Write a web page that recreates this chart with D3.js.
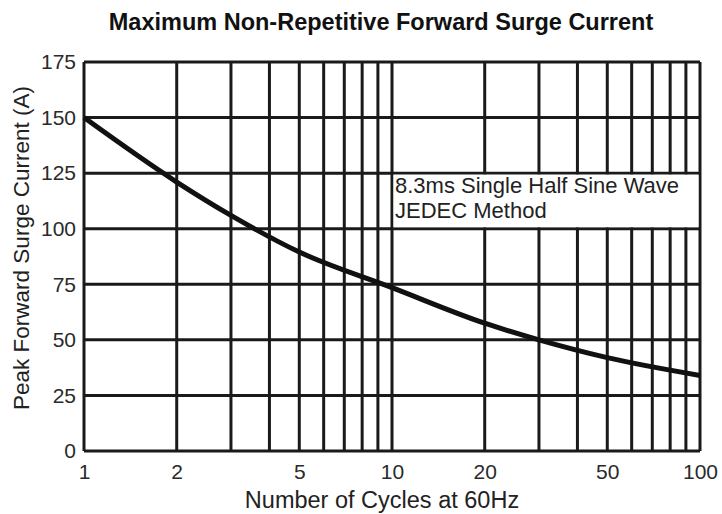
<!DOCTYPE html>
<html lang="en">
<head>
<meta charset="UTF-8">
<script src="https://d3js.org/d3.v7.min.js"></script>
<title>Surge Current</title>
<style>
  body { margin: 0; background: #fff; font-family: "Liberation Sans", Arial, sans-serif; }
  .tick text { fill: #2a2a2a; font-size: 21px; font-family: "Liberation Sans", Arial, sans-serif; }
  .grid line { stroke: #1a1a1a; stroke-width: 3; }
</style>
</head>
<body>
<div id="chart"></div>
<script>
// curve
var cycles  = [1, 2, 3, 5, 10, 20, 30, 50, 100];
var current = [150, 121, 106, 89.5, 73.5, 57.5, 50, 42, 34];
var xTicks = [1, 2, 5, 10, 20, 50, 100];
var xGrid  = [1, 2, 3, 4, 5, 6, 7, 8, 9, 10, 20, 30, 40, 50, 60, 70, 80, 90, 100];
var yTicks = [0, 25, 50, 75, 100, 125, 150, 175];

var W = 722, H = 514;
var margin = {top: 62, right: 22, bottom: 63, left: 84};
var width = W - margin.left - margin.right,
    height = H - margin.top - margin.bottom;

var svg = d3.select("#chart").append("svg")
    .attr("width", W).attr("height", H);
var g = svg.append("g")
    .attr("transform", "translate(" + margin.left + "," + margin.top + ")");

var x = d3.scaleLog().domain([1, 100]).range([0, width]);
var y = d3.scaleLinear().domain([0, 175]).range([height, 0]);

// grid
g.append("g").attr("class", "grid")
  .selectAll("line").data(xGrid).enter().append("line")
    .attr("x1", function(d) { return x(d); }).attr("x2", function(d) { return x(d); })
    .attr("y1", 0).attr("y2", height);
g.append("g").attr("class", "grid")
  .selectAll("line").data(yTicks).enter().append("line")
    .attr("x1", 0).attr("x2", width)
    .attr("y1", function(d) { return y(d); }).attr("y2", function(d) { return y(d); });

// axes (labels only)
var xAxis = g.append("g")
    .attr("transform", "translate(0," + height + ")")
    .call(d3.axisBottom(x).tickValues(xTicks).tickFormat(d3.format("d")).tickSize(0).tickPadding(13));
xAxis.select(".domain").remove();

var yAxis = g.append("g")
    .call(d3.axisLeft(y).tickValues(yTicks).tickSize(0).tickPadding(8));
yAxis.select(".domain").remove();

// annotation box
var box = g.append("g");
box.append("rect")
    .attr("x", x(10) + 1.5).attr("y", y(125) + 1.5)
    .attr("width", width - x(10) - 3).attr("height", y(100) - y(125) - 3)
    .attr("fill", "#fff");
box.append("text")
    .attr("x", x(10) + 3).attr("y", y(125) + 20)
    .attr("font-size", 22).attr("fill", "#222")
    .text("8.3ms Single Half Sine Wave");
box.append("text")
    .attr("x", x(10) + 3).attr("y", y(125) + 45)
    .attr("font-size", 22).attr("fill", "#222")
    .text("JEDEC Method");

// curve
var line = d3.line()
    .x(function(d, i) { return x(cycles[i]); })
    .y(function(d) { return y(d); })
    .curve(d3.curveMonotoneX);
g.append("path")
    .datum(current)
    .attr("d", line)
    .attr("fill", "none")
    .attr("stroke", "#111")
    .attr("stroke-width", 5);

// titles
svg.append("text")
    .attr("x", 381).attr("y", 30)
    .attr("text-anchor", "middle")
    .attr("font-size", 23.5).attr("font-weight", "bold").attr("fill", "#111")
    .text("Maximum Non-Repetitive Forward Surge Current");

svg.append("text")
    .attr("x", 382).attr("y", 508)
    .attr("text-anchor", "middle")
    .attr("font-size", 23.5).attr("fill", "#222")
    .text("Number of Cycles at 60Hz");

svg.append("text")
    .attr("transform", "translate(29,248) rotate(-90)")
    .attr("text-anchor", "middle")
    .attr("font-size", 22.5).attr("fill", "#222")
    .text("Peak Forward Surge Current (A)");
</script>
</body>
</html>
